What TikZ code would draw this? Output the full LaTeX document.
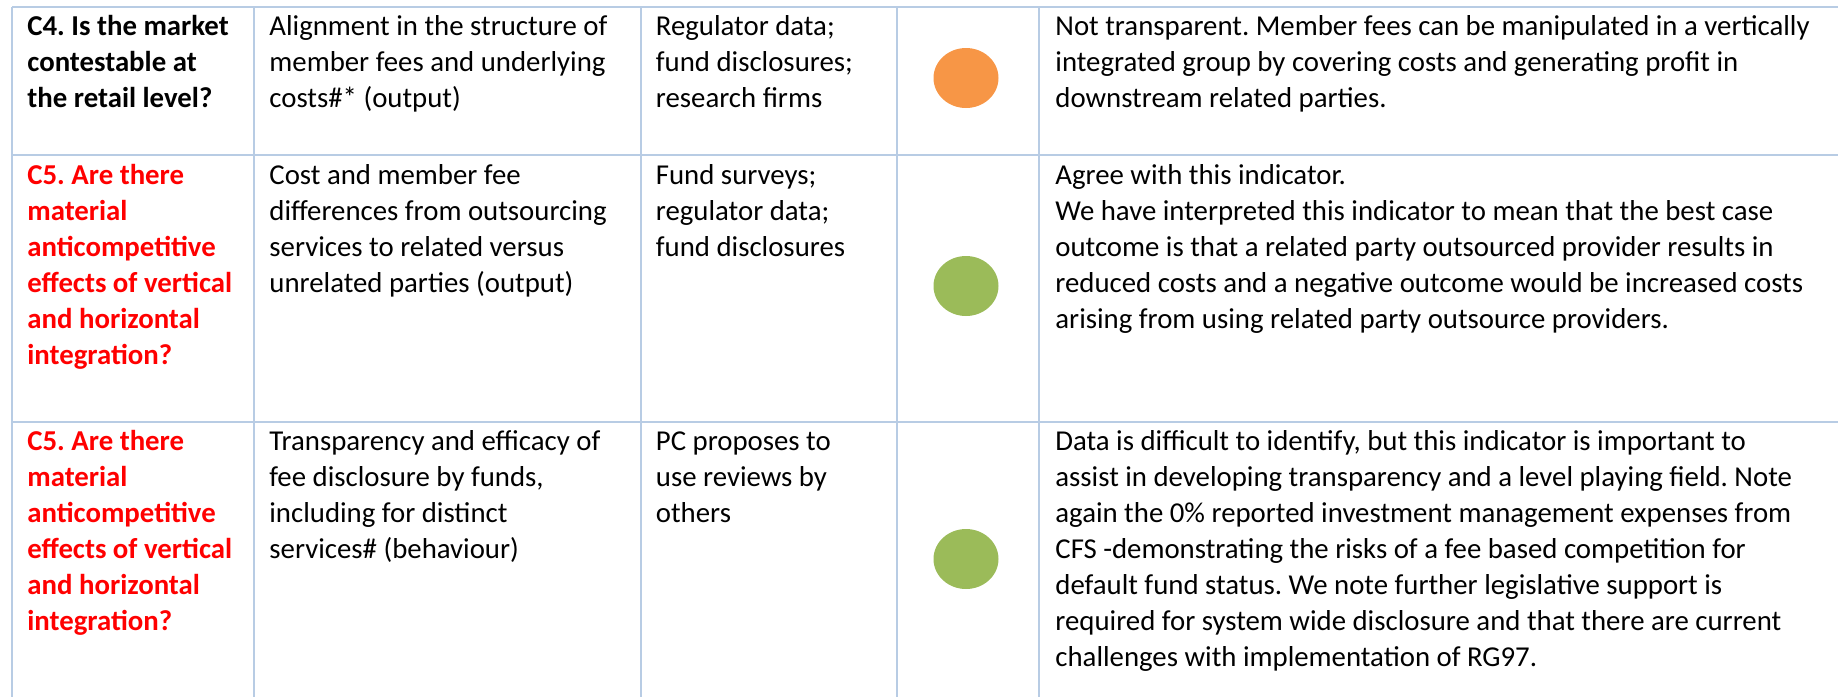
\documentclass[tikz,border=0pt]{standalone}
\usepackage{fontspec}
\setmainfont{Carlito}
\usetikzlibrary{shapes.geometric}
\definecolor{gridblue}{RGB}{184,204,228}
\definecolor{dotorange}{RGB}{247,150,70}
\definecolor{dotgreen}{RGB}{155,187,89}
\definecolor{qred}{RGB}{255,0,0}
\tikzset{
  cell/.style={anchor=north west, inner sep=0pt, align=left,
    font=\fontsize{14.4}{18}\selectfont\frenchspacing, text=black},
  qcell/.style={cell, font=\fontsize{14.4}{18}\selectfont\frenchspacing\bfseries},
  redq/.style={qcell, text=qred},
  gridline/.style={draw=gridblue, line width=1pt},
  dot/.style={ellipse, draw=none, minimum width=32.5pt, minimum height=30pt, inner sep=0pt}
}
\newcommand{\st}{\rule{0pt}{12pt}}
\begin{document}
\begin{tikzpicture}[x=0.5pt,y=-0.5pt]
\useasboundingbox (0,0) rectangle (1838,697);
% grid coordinates
\coordinate (t0) at (12,7);   \coordinate (t1) at (1838,7);
\coordinate (r1a) at (12,154.5); \coordinate (r1b) at (1838,154.5);
\coordinate (r2a) at (12,422); \coordinate (r2b) at (1838,422);
\foreach \n/\x in {v0/12.3,v1/254,v2/641,v3/897,v4/1039}{
  \coordinate (\n t) at (\x,6.5);
  \coordinate (\n b) at (\x,697);
}
\draw[gridline] (t0) -- (t1);
\draw[gridline] (r1a) -- (r1b);
\draw[gridline] (r2a) -- (r2b);
\foreach \n in {v0,v1,v2,v3,v4}{ \draw[gridline] (\n t) -- (\n b); }

% Row 1
\node[qcell] (q1) at (27,11) {\st C4. Is the market\\contestable at\\the retail level?};
\node[cell] (i1) at (269,11) {\st Alignment in the structure of\\member fees and underlying\\costs\#* (output)};
\node[cell] (s1) at (655.5,11) {\st Regulator data;\\fund disclosures;\\research firms};
\node[dot, fill=dotorange] (d1) at (966,78) {};
\node[cell] (c1) at (1055,11) {\st Not transparent. Member fees can be manipulated in a vertically\\integrated group by covering costs and generating profit in\\downstream related parties.};

% Row 2
\node[redq] (q2) at (27,160) {\st C5. Are there\\material\\anticompetitive\\effects of vertical\\and horizontal\\integration?};
\node[cell] (i2) at (269,160) {\st Cost and member fee\\differences from outsourcing\\services to related versus\\unrelated parties (output)};
\node[cell] (s2) at (655.5,160) {\st Fund surveys;\\regulator data;\\fund disclosures};
\node[dot, fill=dotgreen] (d2) at (966,286) {};
\node[cell] (c2) at (1055,160) {\st Agree with this indicator.\\We have interpreted this indicator to mean that the best case\\outcome is that a related party outsourced provider results in\\reduced costs and a negative outcome would be increased costs\\arising from using related party outsource providers.};

% Row 3
\node[redq] (q3) at (27,426) {\st C5. Are there\\material\\anticompetitive\\effects of vertical\\and horizontal\\integration?};
\node[cell] (i3) at (269,426) {\st Transparency and efficacy of\\fee disclosure by funds,\\including for distinct\\services\# (behaviour)};
\node[cell] (s3) at (655.5,426) {\st PC proposes to\\use reviews by\\others};
\node[dot, fill=dotgreen] (d3) at (966,559) {};
\node[cell] (c3) at (1055,426) {\st Data is difficult to identify, but this indicator is important to\\assist in developing transparency and a level playing field. Note\\again the 0\% reported investment management expenses from\\CFS -demonstrating the risks of a fee based competition for\\default fund status. We note further legislative support is\\required for system wide disclosure and that there are current\\challenges with implementation of RG97.};
\end{tikzpicture}
\end{document}
